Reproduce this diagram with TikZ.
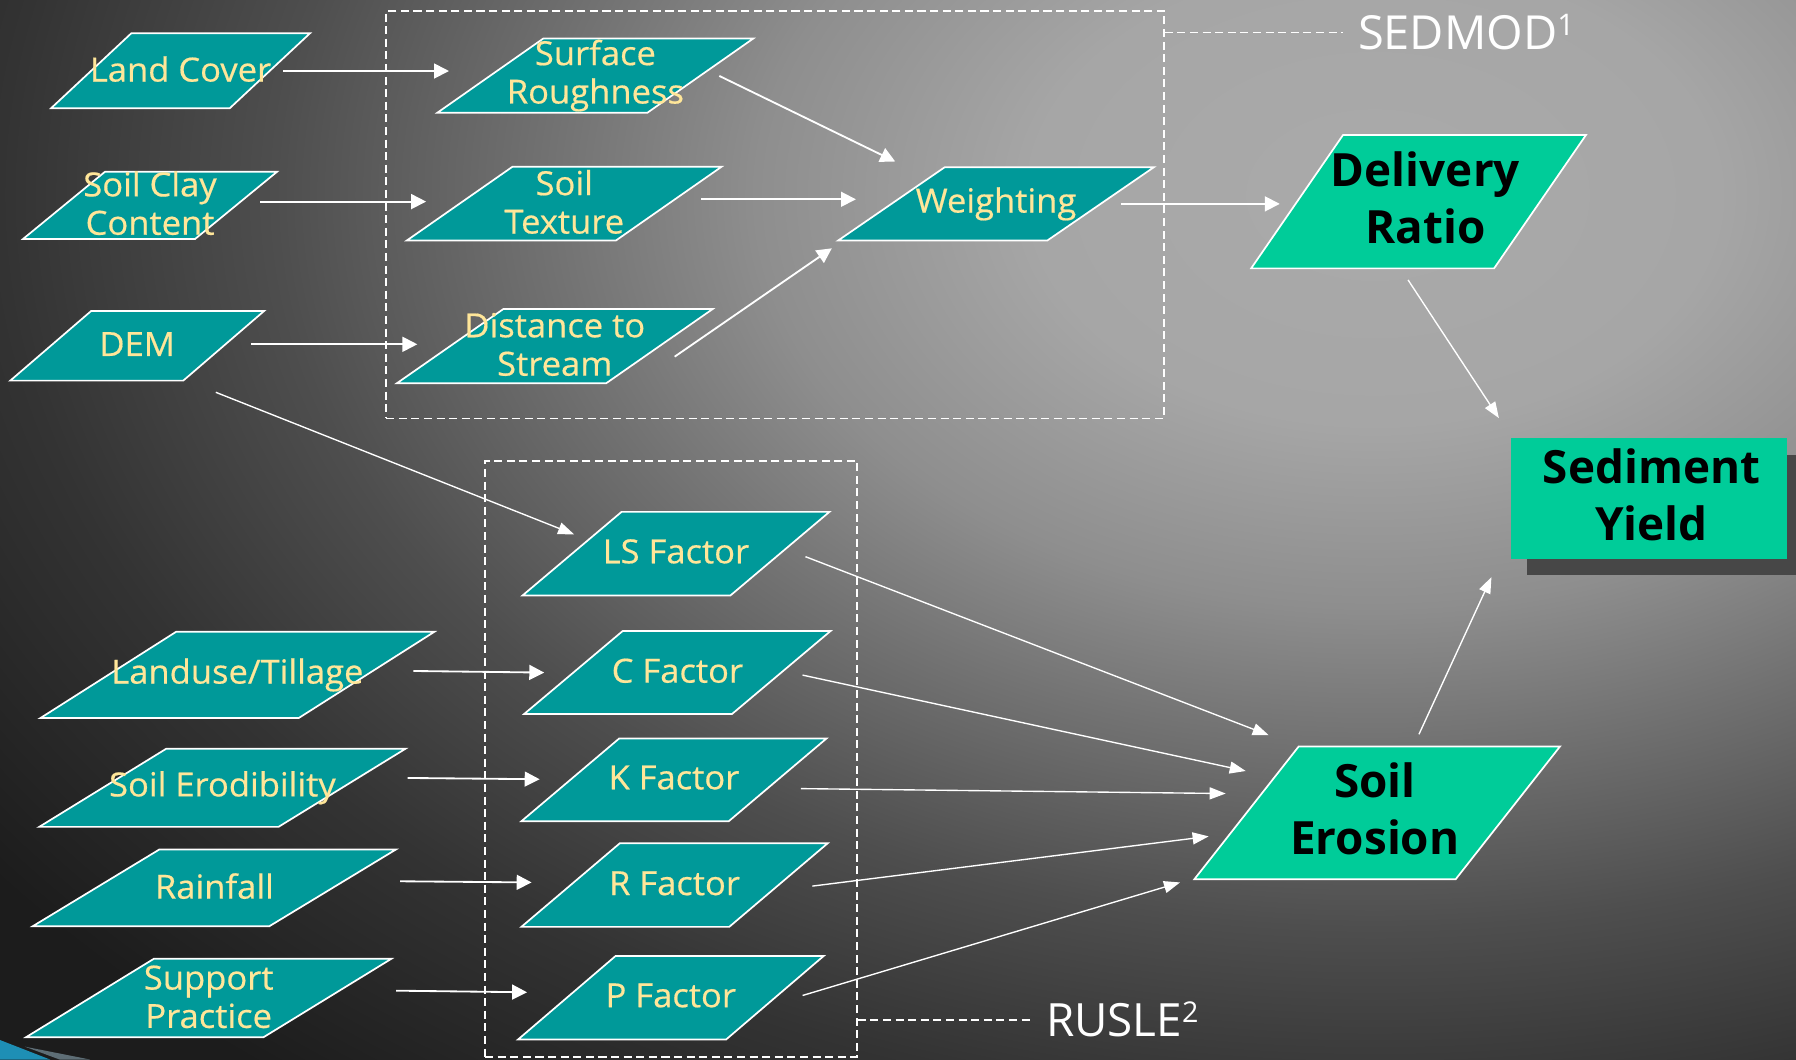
\documentclass[tikz,border=0pt]{standalone}
\usepackage{fontspec}
\setmainfont{Open Sans}
\newfontfamily\boxfont[FakeBold=0.5,FakeStretch=1.04]{Open Sans}
\usetikzlibrary{shapes.geometric,arrows.meta,shadows}

\definecolor{tealbox}{HTML}{009999}
\definecolor{greenbox}{HTML}{00CC99}
\definecolor{ytext}{HTML}{FFE699}
\definecolor{shadowgray}{HTML}{474747}
\definecolor{bgdark}{HTML}{1C1C1C}
\definecolor{swoosh}{HTML}{1E8FB5}
\definecolor{sliver}{HTML}{5E6E76}
\definecolor{bgA}{HTML}{AAAAAA}
\definecolor{bgB}{HTML}{A6A6A6}
\definecolor{bgC}{HTML}{8E8E8E}
\definecolor{bgD}{HTML}{727272}
\definecolor{bgE}{HTML}{4E4E4E}
\definecolor{bgF}{HTML}{333333}

% soft grey glow behind the flow chart (25bp = edge of the shaded ellipse)
\pgfdeclareradialshading{bgglow}{\pgfpoint{0bp}{0bp}}{%
  color(0bp)=(bgA); color(5bp)=(bgB); color(9bp)=(bgC);
  color(12bp)=(bgD); color(16bp)=(bgE); color(20bp)=(bgF);
  color(25bp)=(bgdark); color(50bp)=(bgdark)}

\begin{document}
\begin{tikzpicture}[x=1pt,y=-1pt,
  inbox/.style n args={4}{trapezium, trapezium left angle=#1,
    trapezium right angle=#2, trapezium stretches=true,
    minimum width=#3, minimum height=#4, inner sep=2pt,
    draw=white, line width=1.5pt, fill=tealbox},
  bigbox/.style n args={4}{inbox={#1}{#2}{#3}{#4}, fill=greenbox},
  ylbl/.style={text=ytext, font=\boxfont\fontsize{29}{33.5}\selectfont,
    align=center, inner sep=0pt},
  blbl/.style={text=black, font=\fontsize{40}{50}\selectfont\bfseries,
    align=center, inner sep=0pt},
  grpbox/.style={draw=white, line width=1.3pt, dash pattern=on 7pt off 4pt,
    inner sep=0pt},
  grpline/.style={draw=white, line width=1.3pt, dash pattern=on 7pt off 4pt},
  grplbl/.style={text=white, inner sep=0pt, anchor=west, text depth=0pt},
  arr/.style={draw=white, line width=1.6pt,
    -{Triangle[length=13pt,width=13pt]}},
  arrthin/.style={draw=white, line width=1.2pt,
    -{Triangle[length=14pt,width=10.5pt]}}
]
\useasboundingbox (0,0) rectangle (1568,925);

% background
\fill[bgdark] (0,0) rectangle (1568,925);
\begin{scope}
  \clip (0,0) rectangle (1568,925);
  \shade[shading=bgglow] (1200,170) ellipse [x radius=1500, y radius=1000];
\end{scope}
\fill[swoosh] (0,908) -- (43.7,925) -- (0,925) -- cycle;
\fill[sliver] (21.8,913.8) -- (78.6,925) -- (52,925) -- cycle;

% model groups
\node[grpbox, minimum width=679.1pt, minimum height=355.6pt] (sedmod) at (676.75,187.4) {};
\node[grpbox, minimum width=324.8pt, minimum height=520.3pt] (rusle) at (585.9,662.45) {};
\node[grplbl, font=\fontsize{41}{41}\selectfont, text height=30.6pt] (sedlbl) at (1185.4,28.3)
  {SEDMOD\raisebox{13pt}{\fontsize{26}{26}\selectfont 1}};
\node[grplbl, font=\fontsize{40}{40}\selectfont, text height=28.5pt] (ruslbl) at (913,890.5)
  {RUSLE\raisebox{12.5pt}{\fontsize{25}{25}\selectfont 2}};
\draw[grpline] (sedmod.east |- sedlbl.west) -- ([xshift=-12.8pt]sedlbl.west);
\draw[grpline] (rusle.east |- ruslbl.west) -- ([xshift=-12.5pt]ruslbl.west);

% input layers
\node[inbox={50.7}{129.3}{226.2pt}{65.6pt}, label={[ylbl,yshift=1.5pt]center:Land Cover}] (lc) at (157.6,61.8) {};
\node[inbox={47.7}{132.3}{221.9pt}{58.7pt}, label={[ylbl,yshift=2pt]center:Soil Clay\\Content}] (sc) at (131,179.3) {};
\node[inbox={48.7}{131.3}{221.8pt}{60.8pt}, label={[ylbl,yshift=1.5pt]center:DEM}] (dem) at (119.8,301.9) {};
\node[inbox={42.1}{137.9}{344.3pt}{75.3pt}, label={[ylbl]center:Landuse/Tillage}] (lu) at (207.25,589.25) {};
\node[inbox={41.4}{138.6}{320.2pt}{68.3pt}, label={[ylbl]center:Soil Erodibility}] (er) at (194.2,687.75) {};
\node[inbox={41.0}{139.0}{317.2pt}{67pt}, label={[ylbl,yshift=1.5pt]center:Rainfall}] (rain) at (187.2,775.1) {};
\node[inbox={40.7}{139.3}{319.2pt}{68.4pt}, label={[ylbl,yshift=1pt]center:Support\\Practice}] (sup) at (182.2,871.3) {};

% SEDMOD steps
\node[inbox={44.4}{135.6}{276.2pt}{64.9pt}, label={[ylbl]center:Surface\\Roughness}] (sr) at (519.8,66) {};
\node[inbox={44.3}{135.7}{275.2pt}{64.5pt}, label={[ylbl,yshift=1.5pt]center:Soil\\Texture}] (st) at (492.6,177.75) {};
\node[inbox={44.0}{136.0}{275.7pt}{64.8pt}, label={[ylbl,yshift=1.5pt]center:Distance to\\Stream}] (dist) at (484.35,302.2) {};
\node[inbox={43.9}{136.1}{275.7pt}{64pt}, label={[ylbl]center:Weighting}] (w) at (869.55,178) {};

% RUSLE factors
\node[inbox={47.7}{132.3}{268.1pt}{73pt}, label={[ylbl,yshift=2pt]center:LS Factor}] (ls) at (590.15,483.4) {};
\node[inbox={48.0}{132.0}{267.6pt}{72.4pt}, label={[ylbl,yshift=1.5pt]center:C Factor}] (cf) at (591.4,587.1) {};
\node[inbox={48.2}{131.8}{266.6pt}{72.3pt}, label={[ylbl,yshift=2pt]center:K Factor}] (kf) at (588.4,680.85) {};
\node[inbox={48.0}{132.0}{267.6pt}{73pt}, label={[ylbl,yshift=1.5pt]center:R Factor}] (rf) at (588.9,772.7) {};
\node[inbox={48.5}{131.5}{267.1pt}{73pt}, label={[ylbl,yshift=2pt]center:P Factor}] (pf) at (585.65,871.1) {};

% results
\node[bigbox={58.7}{121.3}{292.3pt}{116.4pt}, label={[blbl,xshift=6pt,yshift=3.5pt]center:Delivery\\Ratio}] (dr) at (1238.45,176.1) {};
\node[bigbox={56.4}{123.6}{319.3pt}{115.9pt}, label={[blbl,xshift=-2pt,yshift=3.5pt]center:Soil\\Erosion}] (se) at (1202.35,709.65) {};
\node[rectangle, fill=greenbox, minimum width=240.6pt, minimum height=105.1pt, inner sep=0pt,
  general shadow={fill=shadowgray, shadow xshift=13.5pt, shadow yshift=-14.3pt},
  label={[blbl,xshift=2pt,yshift=3.5pt]center:Sediment\\Yield}] (sy) at (1439.8,435.25) {};

% connectors: inputs to SEDMOD
\draw[arr] ([shift={(89.6,0.2)}]lc.center) -- ([shift={(-127.8,-4)}]sr.center);
\draw[arr] ([shift={(96,-3.3)}]sc.center) -- ([shift={(-120.6,-1.75)}]st.center);
\draw[arr] ([shift={(99.2,-1.3)}]dem.center) -- ([shift={(-120,-1.6)}]dist.center);
\draw[arr] ([shift={(108.2,0.3)}]sr.center) -- ([shift={(-88,-37)}]w.center);
\draw[arr] ([shift={(119.4,-3.75)}]st.center) -- ([shift={(-122.3,-4)}]w.center);
\draw[arr] ([shift={(104.65,9.2)}]dist.center) -- ([shift={(-143.35,38.8)}]w.center);
\draw[arr] ([shift={(108.95,0)}]w.center) -- ([shift={(-121.15,1.9)}]dr.center);

% connectors: inputs to RUSLE
\draw[arrthin] ([shift={(68.6,40.6)}]dem.center) -- ([shift={(-88.95,-16.9)}]ls.center);
\draw[arr] ([shift={(153.65,-3.45)}]lu.center) -- ([shift={(-116.3,0.1)}]cf.center);
\draw[arr] ([shift={(161.7,-8.55)}]er.center) -- ([shift={(-117.3,-0.55)}]kf.center);
\draw[arr] ([shift={(162.1,-5.7)}]rain.center) -- ([shift={(-124.8,-2.3)}]rf.center);
\draw[arr] ([shift={(163.6,-6.4)}]sup.center) -- ([shift={(-125.55,-4.8)}]pf.center);

% connectors: factors to soil erosion
\draw[arrthin] ([shift={(113.05,2.6)}]ls.center) -- ([shift={(-94.75,-67.85)}]se.center);
\draw[arrthin] ([shift={(109.3,2.3)}]cf.center) -- ([shift={(-114.75,-36.55)}]se.center);
\draw[arrthin] ([shift={(110.8,7.65)}]kf.center) -- ([shift={(-132.25,-16.85)}]se.center);
\draw[arrthin] ([shift={(120.3,0.9)}]rf.center) -- ([shift={(-147.15,20.55)}]se.center);
\draw[arrthin] ([shift={(115.05,-2)}]pf.center) -- ([shift={(-172.15,60.75)}]se.center);

% connectors: to sediment yield
\draw[arrthin] ([shift={(-9.15,68.3)}]dr.center) -- ([shift={(-131.2,-70.25)}]sy.center);
\draw[arrthin] ([shift={(36.45,-68.55)}]se.center) -- ([shift={(-137.7,68.65)}]sy.center);
\end{tikzpicture}
\end{document}
